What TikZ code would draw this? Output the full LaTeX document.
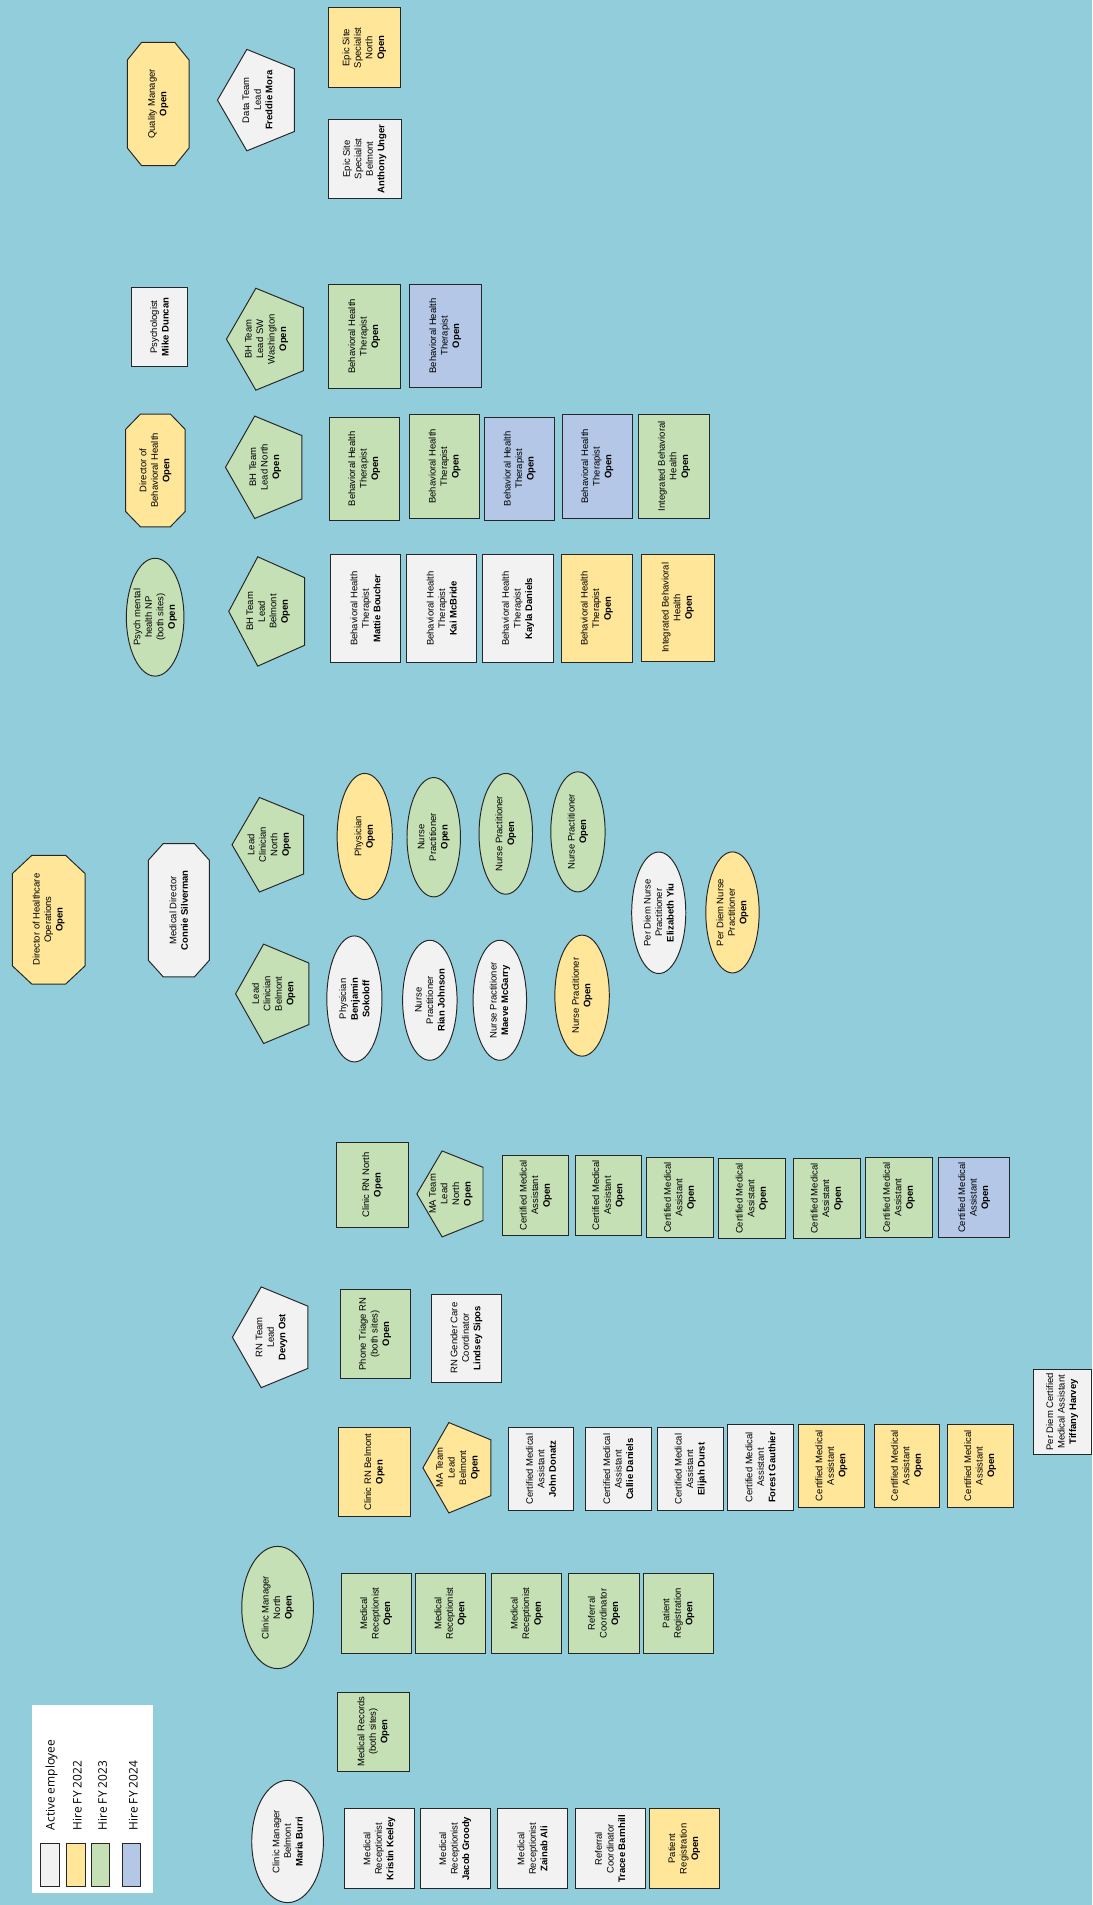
\documentclass[tikz,border=0pt]{standalone}
\usepackage{fontspec}
\setmainfont{Liberation Sans}
\newfontfamily\leyendafont{Open Sans}
\usetikzlibrary{shapes.geometric}
\definecolor{fondo}{HTML}{92CDDC}
\definecolor{gris}{HTML}{F2F2F2}
\definecolor{amarillo}{HTML}{FFE699}
\definecolor{verde}{HTML}{C5E0B4}
\definecolor{azul}{HTML}{B4C7E7}
\definecolor{borde}{HTML}{262626}

\begin{document}
\begin{tikzpicture}[x=1pt, y=-1pt,
        txt/.style={rotate=90, align=center, inner sep=0pt, font=\fontsize{7.8}{9.5}\selectfont},
        caja/.style={txt, draw=borde, line width=.8pt, inner sep=1pt},
        ovalo/.style={caja, ellipse, inner sep=0pt},
        forma/.style={draw=borde, line width=.8pt},
        leyenda/.style={rotate=90, anchor=west, inner sep=0pt, font=\leyendafont\fontsize{9.8}{11}\selectfont}]

        % Fondo
        \fill[fondo] (0,0) rectangle (899,1568);
        \useasboundingbox (0,0) rectangle (899,1568);

        % Directores (octogonos)
        \foreach \nom/\x/\y/\a/\b/\p/\q/\col/\txt in {
            qm/130.2/85.6/25.4/50.8/11.8/14.6/amarillo/{Quality Manager\\\textbf{Open}},
            dbh/127.9/387.2/24.5/46.4/12.2/12.6/amarillo/{Director of\\Behavioral Health\\\textbf{Open}},
            dho/40.1/757/29.9/53/16/15/amarillo/{Director of Healthcare\\Operations\\\textbf{Open}},
            mdir/147.2/749.2/25.1/54.9/12.3/13.7/gris/{Medical Director\\\textbf{Connie Silverman}}}{
            \draw[forma, fill=\col] (\x-\a+\p,\y-\b) -- (\x+\a-\p,\y-\b) -- (\x+\a,\y-\b+\q) -- (\x+\a,\y+\b-\q)
                -- (\x+\a-\p,\y+\b) -- (\x-\a+\p,\y+\b) -- (\x-\a,\y+\b-\q) -- (\x-\a,\y-\b+\q) -- cycle;
            \node[txt] (\nom) at (\x,\y) {\txt};
        }

        % Jefes de equipo (pentagonos)
        \foreach \nom/\x/\y/\rx/\ry/\col/\txt in {
            dtl/214/82.4/35/43.9/gris/{Data Team\\Lead\\\textbf{Freddie Mora}},
            bhtsw/221.4/279.2/35/44.1/verde/{BH Team\\Lead SW\\Washington\\\textbf{Open}},
            bhtn/220.4/384.6/34.8/44.3/verde/{BH Team\\Lead North\\\textbf{Open}},
            bhtb/222.8/503.3/34.5/47.3/verde/{BH Team\\Lead\\Belmont\\\textbf{Open}},
            lcn/223.6/695.3/32.6/40.9/verde/{Lead\\Clinician\\North\\\textbf{Open}},
            lcb/227.3/818/33.4/43/verde/{Lead\\Clinician\\Belmont\\\textbf{Open}},
            matn/373.2/982.7/30.1/37.2/verde/{MA Team\\Lead\\North\\\textbf{Open}},
            rntl/225.6/1100.7/34.3/43.6/gris/{RN Team\\Lead\\\textbf{Devyn Ost}},
            matb/379/1208.1/30.9/39.1/amarillo/{MA Team\\Lead\\Belmont\\\textbf{Open}}}{
            \draw[forma, fill=\col] (\x-\rx,\y) -- (\x-0.309*\rx,\y-0.951*\ry) -- (\x+0.809*\rx,\y-0.588*\ry)
                -- (\x+0.809*\rx,\y+0.588*\ry) -- (\x-0.309*\rx,\y+0.951*\ry) -- cycle;
            \node[txt] (\nom) at (\x-2,\y) {\txt};
        }

        % Fila superior
        \node[caja, fill=amarillo, minimum width=66pt, minimum height=59pt] (epicn) at (299.8,39.3) {Epic Site\\Specialist\\North\\\textbf{Open}};
        \node[caja, fill=gris, minimum width=65pt, minimum height=60pt] (epicb) at (300.2,130.7) {Epic Site\\Specialist\\Belmont\\\textbf{Anthony Unger}};
        \node[caja, fill=gris, minimum width=65.4pt, minimum height=46.7pt] (psico) at (131.2,269.2) {Psychologist\\\textbf{Mike Duncan}};

        % Terapeutas BH
        \foreach \x/\y/\col [count=\i] in {299.8/276.9/verde, 366.4/276.5/azul}
            \node[caja, fill=\col, minimum width=85pt, minimum height=59pt] (bhsw\i) at (\x,\y) {Behavioral Health\\Therapist\\\textbf{Open}};
        \foreach \x/\y/\col [count=\i] in {299.8/385.9/verde, 366/383.9/verde, 427.8/385.9/azul, 491.6/383.9/azul}
            \node[caja, fill=\col, minimum width=85pt, minimum height=58pt] (bhn\i) at (\x,\y) {Behavioral Health\\Therapist\\\textbf{Open}};
        \node[caja, fill=verde, minimum width=85.6pt, minimum height=59pt] (ibhn) at (554.8,383.9) {Integrated Behavioral\\Health\\\textbf{Open}};
        \foreach \x/\col/\txt [count=\i] in {300.8/gris/Mattie Boucher, 363.6/gris/Kai McBride, 426.4/gris/Kayla Daniels, 491.2/amarillo/Open}
            \node[caja, fill=\col, minimum width=89pt, minimum height=58pt] (bhb\i) at (\x,500.9) {Behavioral Health\\Therapist\\\textbf{\txt}};
        \node[caja, fill=amarillo, minimum width=88pt, minimum height=60pt] (ibhb) at (557.9,500.3) {Integrated Behavioral\\Health\\\textbf{Open}};

        % Clinicos (elipses)
        \node[ovalo, fill=verde, inner ysep=-1.5pt, minimum width=97pt, minimum height=47.4pt] (pnp) at (127.7,508) {Psych mental\\health NP\\(both sites)\\\textbf{Open}};
        \foreach \nom/\x/\y/\w/\h/\col/\txt in {
            phn/300.2/688.5/45.4/103.8/amarillo/{Physician\\\textbf{Open}},
            npn1/357/689.1/44/98.2/verde/{Nurse\\Practitioner\\\textbf{Open}},
            npn2/416.3/686.3/44/99.4/verde/{Nurse Practitioner\\\textbf{Open}},
            npn3/475.7/684.7/44.7/98.8/verde/{Nurse Practitioner\\\textbf{Open}},
            pd1/542.2/751.3/44.5/100/gris/{Per Diem Nurse\\Practitioner\\\textbf{Elizabeth Yiu}},
            pd2/602.9/751/43.9/99.6/amarillo/{Per Diem Nurse\\Practitioner\\\textbf{Open}},
            phb/291.7/822.2/45.4/103.7/gris/{Physician\\\textbf{Benjamin}\\\textbf{Sokoloff}},
            npb1/353.8/823.3/44.8/98.8/gris/{Nurse\\Practitioner\\\textbf{Rian Johnson}},
            npb2/411.4/823.3/44/98.8/gris/{Nurse Practitioner\\\textbf{Maeve McGarry}},
            npb3/479.1/819.5/44.8/99.6/amarillo/{Nurse Practitioner\\\textbf{Open}},
            cmn/228.5/1323.1/59/100.6/verde/{Clinic Manager\\North\\\textbf{Open}},
            cmb/236.7/1515.7/59/100.6/gris/{Clinic Manager\\Belmont\\\textbf{Maria Burri}}}
            \node[ovalo, fill=\col, minimum width=\h, minimum height=\w] (\nom) at (\x,\y) {\txt};

        % Enfermeria North
        \node[caja, fill=verde, minimum width=69.3pt, minimum height=58.7pt] (rnn) at (306.6,975.4) {Clinic RN North\\\textbf{Open}};
        \foreach \x/\y/\w/\col [count=\i] in {441/983.9/54.5/verde, 500.7/983.9/54.5/verde, 559.7/985.8/54.5/verde, 618.8/986.6/55/verde, 680.5/986.6/55/verde, 739.9/985.8/54.5/verde, 801.8/985.8/58.5/azul}
            \node[caja, fill=\col, minimum width=66pt, minimum height=\w] (cman\i) at (\x,\y) {Certified Medical\\Assistant\\\textbf{Open}};

        % Enfermeria
        \node[caja, fill=verde, minimum width=73.3pt, minimum height=57.6pt] (triage) at (308.7,1098) {Phone Triage RN\\(both sites)\\\textbf{Open}};
        \node[caja, fill=gris, minimum width=72.2pt, minimum height=58.2pt] (gender) at (383.9,1101.4) {RN Gender Care\\Coordinator\\\textbf{Lindsey Sipos}};

        % Enfermeria Belmont
        \node[caja, fill=amarillo, minimum width=72.7pt, minimum height=59.1pt] (rnb) at (308.2,1211.7) {Clinic RN Belmont\\\textbf{Open}};
        \foreach \x/\y/\h/\col/\txt [count=\i] in {445.3/1209.2/67.8/gris/John Donatz, 508.9/1209.2/67.8/gris/Callie Daniels, 568.5/1209.2/67.8/gris/Elijah Durst, 625.9/1207.9/70.5/gris/Forest Gauthier, 684.3/1206.5/67.8/amarillo/Open, 746.5/1206.5/67.8/amarillo/Open, 806.8/1206.5/67.8/amarillo/Open}
            \node[caja, fill=\col, minimum width=\h, minimum height=54pt] (cmab\i) at (\x,\y) {Certified Medical\\Assistant\\\textbf{\txt}};
        \node[caja, fill=gris, minimum width=70pt, minimum height=47.5pt] (pdcma) at (874.3,1162) {Per Diem Certified\\Medical Assistant\\\textbf{Tiffany Harvey}};

        % Recepcion North
        \foreach \x/\txt [count=\i] in {309.6/{Medical\\Receptionist}, 370.8/{Medical\\Receptionist}, 433.6/{Medical\\Receptionist}, 497.2/{Referral\\Coordinator}, 558.4/{Patient\\Registration}}
            \node[caja, fill=verde, minimum width=66pt, minimum height=57.8pt] (recn\i) at (\x,1328) {\txt\\\textbf{Open}};
        \node[caja, fill=verde, minimum width=65pt, minimum height=58.7pt] (records) at (307.4,1425.2) {Medical Records\\(both sites)\\\textbf{Open}};

        % Recepcion Belmont
        \foreach \x/\col/\txt [count=\i] in {312.3/gris/{Medical\\Receptionist\\\textbf{Kristin Keeley}}, 374.6/gris/{Medical\\Receptionist\\\textbf{Jacob Groody}}, 438.3/gris/{Medical\\Receptionist\\\textbf{Zainab Ali}}, 502.2/gris/{Referral\\Coordinator\\\textbf{Tracee Barnhill}}, 563.1/amarillo/{Patient\\Registration\\\textbf{Open}}}
            \node[caja, fill=\col, minimum width=65.9pt, minimum height=57.5pt] (recb\i) at (\x,1521.7) {\txt};

        % Leyenda
        \fill[white] (26.6,1403.6) rectangle (126.2,1557.8);
        \foreach \x/\col in {41.2/gris, 62.5/amarillo, 82.6/verde, 108.3/azul}
            \draw[forma, fill=\col] (\x-7.5,1517) rectangle (\x+7.5,1553);
        \foreach \x/\txt [count=\i] in {42.5/Active employee, 63.7/Hire FY 2022, 84.5/Hire FY 2023, 109.8/Hire FY 2024}
            \node[leyenda] (ley\i) at (\x,1506.6) {\txt};
\end{tikzpicture}
\end{document}
